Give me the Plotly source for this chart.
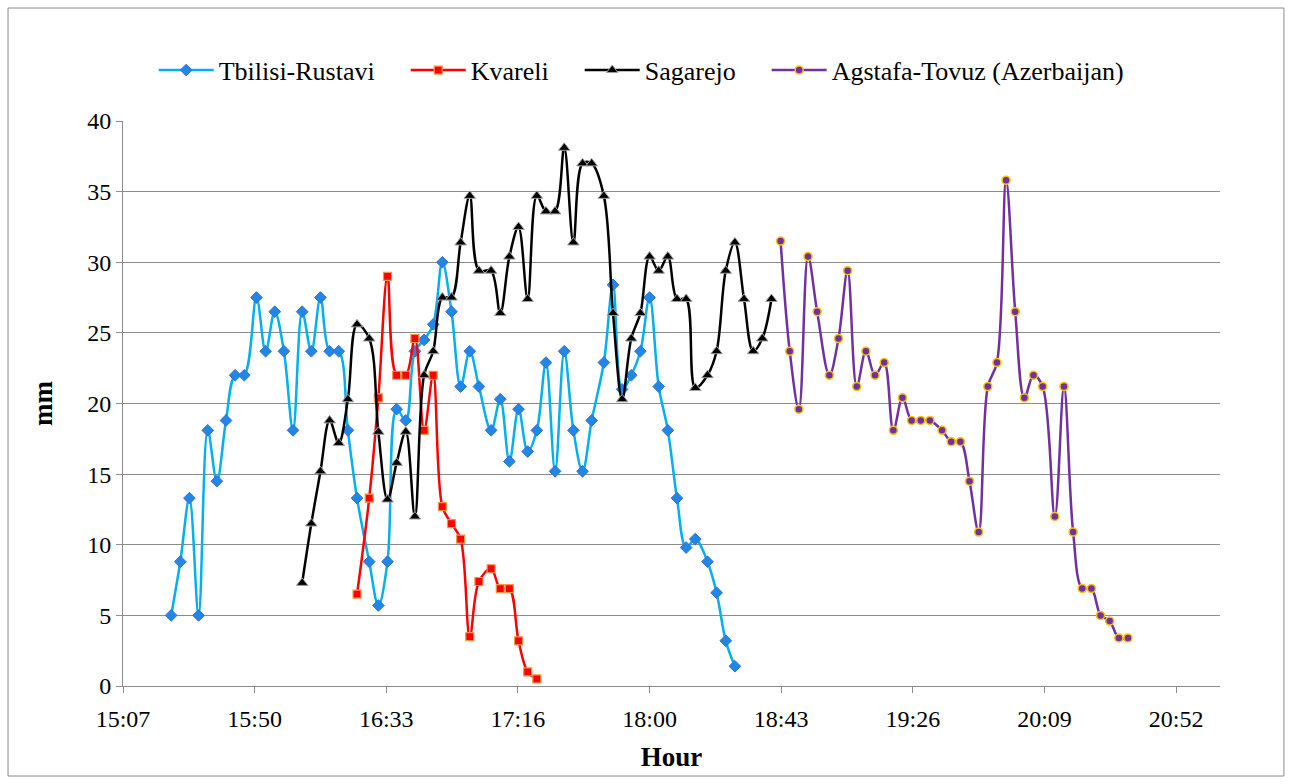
import plotly.graph_objects as go

DAY = "2000-01-01 "

# Observation times (HH:MM) and values (mm) per station
tbilisi_times = ["15:23", "15:26", "15:29", "15:32", "15:35", "15:38", "15:41", "15:44", "15:47", "15:51",
                 "15:54", "15:57", "16:00", "16:03", "16:06", "16:09", "16:12", "16:15", "16:18", "16:21",
                 "16:24", "16:28", "16:31", "16:34", "16:37", "16:40", "16:43", "16:46", "16:49", "16:52",
                 "16:55", "16:58", "17:01", "17:04", "17:08", "17:11", "17:14", "17:17", "17:20", "17:23",
                 "17:26", "17:29", "17:32", "17:35", "17:38", "17:41", "17:45", "17:48", "17:51", "17:54",
                 "17:57", "18:00", "18:03", "18:06", "18:09", "18:12", "18:15", "18:19", "18:22", "18:25",
                 "18:28"]
tbilisi_mm = [5.0, 8.8, 13.3, 5.0, 18.1, 14.5, 18.8, 22.0, 22.0, 27.5,
              23.7, 26.5, 23.7, 18.1, 26.5, 23.7, 27.5, 23.7, 23.7, 18.1,
              13.3, 8.8, 5.7, 8.8, 19.6, 18.8, 23.7, 24.5, 25.6, 30.0,
              26.5, 21.2, 23.7, 21.2, 18.1, 20.3, 15.9, 19.6, 16.6, 18.1,
              22.9, 15.2, 23.7, 18.1, 15.2, 18.8, 22.9, 28.4, 21.0, 22.0,
              23.7, 27.5, 21.2, 18.1, 13.3, 9.8, 10.4, 8.8, 6.6, 3.2,
              1.4]

kvareli_times = ["16:24", "16:28", "16:31", "16:34", "16:37", "16:40", "16:43", "16:46", "16:49", "16:52",
                 "16:55", "16:58", "17:01", "17:04", "17:08", "17:11", "17:14", "17:17", "17:20", "17:23"]
kvareli_mm = [6.5, 13.3, 20.4, 29.0, 22.0, 22.0, 24.6, 18.1, 22.0, 12.7,
              11.5, 10.4, 3.5, 7.4, 8.3, 6.9, 6.9, 3.2, 1.0, 0.5]

sagarejo_times = ["16:06", "16:09", "16:12", "16:15", "16:18", "16:21", "16:24", "16:28", "16:31", "16:34",
                  "16:37", "16:40", "16:43", "16:46", "16:49", "16:52", "16:55", "16:58", "17:01", "17:04",
                  "17:08", "17:11", "17:14", "17:17", "17:20", "17:23", "17:26", "17:29", "17:32", "17:35",
                  "17:38", "17:41", "17:45", "17:48", "17:51", "17:54", "17:57", "18:00", "18:03", "18:06",
                  "18:09", "18:12", "18:15", "18:19", "18:22", "18:25", "18:28", "18:31", "18:34", "18:37",
                  "18:40"]
sagarejo_mm = [7.3, 11.5, 15.2, 18.8, 17.2, 20.3, 25.6, 24.6, 18.0, 13.2,
               15.8, 18.0, 12.0, 22.0, 23.7, 27.5, 27.5, 31.4, 34.7, 29.4,
               29.4, 26.4, 30.4, 32.5, 27.4, 34.7, 33.6, 33.6, 38.1, 31.4,
               37.0, 37.0, 34.7, 26.4, 20.3, 24.6, 26.4, 30.4, 29.4, 30.4,
               27.4, 27.4, 21.1, 22.0, 23.7, 29.4, 31.4, 27.4, 23.7, 24.6,
               27.4]

agstafa_times = ["18:43", "18:46", "18:49", "18:52", "18:55", "18:59", "19:02", "19:05", "19:08", "19:11",
                 "19:14", "19:17", "19:20", "19:23", "19:26", "19:29", "19:32", "19:36", "19:39", "19:42",
                 "19:45", "19:48", "19:51", "19:54", "19:57", "20:00", "20:03", "20:06", "20:09", "20:13",
                 "20:16", "20:19", "20:22", "20:25", "20:28", "20:31", "20:34", "20:37"]
agstafa_mm = [31.5, 23.7, 19.6, 30.4, 26.5, 22.0, 24.6, 29.4, 21.2, 23.7,
              22.0, 22.9, 18.1, 20.4, 18.8, 18.8, 18.8, 18.1, 17.3, 17.3,
              14.5, 10.9, 21.2, 22.9, 35.8, 26.5, 20.4, 22.0, 21.2, 12.0,
              21.2, 10.9, 6.9, 6.9, 5.0, 4.6, 3.4, 3.4]

# Non-breaking spaces widen the gap between horizontal legend entries
PAD = "\u00a0" * 4

series = [
    ("Tbilisi-Rustavi", tbilisi_times, tbilisi_mm, "#00B0F0",
     dict(symbol="diamond", size=9, color="#1F87E8", line=dict(color="#3A6FD0", width=1))),
    ("Kvareli", kvareli_times, kvareli_mm, "#FF0000",
     dict(symbol="square", size=8, color="#FF0000", line=dict(color="#F79646", width=1.2))),
    ("Sagarejo", sagarejo_times, sagarejo_mm, "#000000",
     dict(symbol="triangle-up", size=10, color="#000000", line=dict(color="#A0A0A0", width=1))),
    ("Agstafa-Tovuz (Azerbaijan)", agstafa_times, agstafa_mm, "#7030A0",
     dict(symbol="circle", size=8, color="#7030A0", line=dict(color="#FFC000", width=1.5))),
]

fig = go.Figure()
for i, (name, times, vals, color, marker) in enumerate(series):
    label = name + (PAD if i < len(series) - 1 else "")
    fig.add_trace(go.Scatter(
        x=[DAY + t for t in times], y=vals, name=label,
        mode="lines+markers",
        line=dict(color=color, width=2.5, shape="spline", smoothing=1.0),
        marker=marker,
    ))

FONT = "Liberation Serif, Times New Roman, serif"
GRID = "#8C8C8C"

fig.update_layout(
    width=1292, height=784,
    margin=dict(l=123, r=72, t=121, b=98),
    paper_bgcolor="white", plot_bgcolor="white",
    font=dict(family=FONT, size=24, color="black"),
    showlegend=True,
    legend=dict(orientation="h", x=0.028, xanchor="left", y=1.09, yanchor="middle",
                font=dict(family=FONT, size=26), traceorder="normal", itemwidth=55,
                bgcolor="rgba(0,0,0,0)"),
    xaxis=dict(
        type="date",
        range=[DAY + "15:07:12", DAY + "21:07:12"],
        tick0=DAY + "15:07:12", dtick=43.2 * 60 * 1000,
        tickformat="%H:%M",
        showgrid=False, zeroline=False,
        showline=True, linecolor=GRID, linewidth=1,
        ticks="outside", ticklen=6, tickcolor=GRID,
        ticklabelstandoff=5,
        tickfont=dict(family=FONT, size=24),
        title=dict(text="<b>Hour</b>", font=dict(family=FONT, size=27), standoff=16),
    ),
    yaxis=dict(
        range=[0, 40], dtick=5,
        showgrid=True, gridcolor=GRID, gridwidth=1,
        zeroline=False,
        showline=True, linecolor=GRID, linewidth=1,
        ticks="outside", ticklen=6, tickcolor=GRID,
        tickfont=dict(family=FONT, size=24),
        title=dict(text="<b>mm</b>", font=dict(family=FONT, size=27), standoff=26),
    ),
    shapes=[dict(type="rect", xref="paper", yref="paper",
                 x0=-0.1048, x1=1.0583, y0=-0.1593, y1=1.2,
                 line=dict(color="#8C8C8C", width=1), fillcolor="rgba(0,0,0,0)", layer="below")],
)

fig.write_html("out.html")
